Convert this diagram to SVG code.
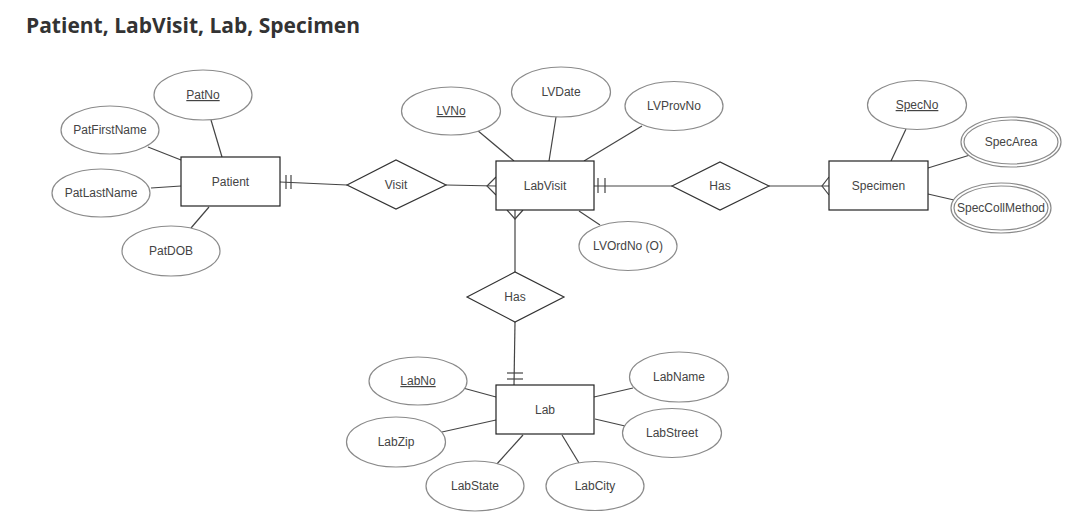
<svg xmlns="http://www.w3.org/2000/svg" width="1088" height="523" viewBox="0 0 1088 523">
<style>
.bg{fill:#ffffff}
.title{font-family:"Open Sans","Liberation Sans",sans-serif;font-weight:bold;font-size:21px;fill:#333333}
.ent rect{fill:#ffffff;stroke:#222222;stroke-width:1.2}
.rel polygon{fill:#ffffff;stroke:#333333;stroke-width:1.2}
.att ellipse{fill:#ffffff;stroke:#8a8a8a;stroke-width:1.2}
text.l{font-family:"Liberation Sans",Arial,sans-serif;font-size:12px;fill:#444444;text-anchor:middle}
.key{text-decoration:underline}
.conn line,.conn polyline{stroke:#444444;stroke-width:1.2;fill:none}
</style>
<rect class="bg" x="0" y="0" width="1088" height="523"/>
<text class="title" x="26" y="33">Patient, LabVisit, Lab, Specimen</text>

<g id="connectors" class="conn">
  <line x1="211" y1="120" x2="222" y2="157"/>
  <line x1="148" y1="147" x2="181" y2="160"/>
  <line x1="151" y1="188" x2="181" y2="186"/>
  <line x1="191" y1="228" x2="209" y2="207"/>
  <line x1="280" y1="182" x2="347" y2="185"/>
  <line x1="286" y1="175" x2="286" y2="189"/>
  <line x1="291" y1="175" x2="291" y2="189"/>
  <line x1="446" y1="185" x2="496" y2="186"/>
  <polyline points="496,177 487,186 496,195"/>
  <line x1="477" y1="130" x2="514" y2="161"/>
  <line x1="556" y1="117" x2="549" y2="161"/>
  <line x1="642" y1="126" x2="584" y2="161"/>
  <line x1="579" y1="211" x2="600" y2="225"/>
  <line x1="594" y1="186" x2="672" y2="186"/>
  <line x1="598" y1="178" x2="598" y2="193"/>
  <line x1="605" y1="178" x2="605" y2="193"/>
  <line x1="769" y1="186" x2="829" y2="186"/>
  <polyline points="829,177 822,186 829,195"/>
  <line x1="906" y1="129" x2="891" y2="161"/>
  <line x1="928" y1="168" x2="970" y2="155"/>
  <line x1="928" y1="194" x2="954" y2="200"/>
  <line x1="515" y1="210" x2="515" y2="272"/>
  <polyline points="507,210 515,219 523,210"/>
  <line x1="515" y1="322" x2="514" y2="385"/>
  <line x1="507" y1="373" x2="523" y2="373"/>
  <line x1="507" y1="379" x2="523" y2="379"/>
  <line x1="463" y1="388" x2="496" y2="397"/>
  <line x1="633" y1="388" x2="594" y2="397"/>
  <line x1="442" y1="432" x2="496" y2="420"/>
  <line x1="595" y1="419" x2="625" y2="426"/>
  <line x1="496" y1="465" x2="523" y2="435"/>
  <line x1="562" y1="435" x2="579" y2="463"/>
</g>

<g id="patient" class="ent"><rect x="181" y="157" width="99" height="49"/><text class="l" x="230.5" y="186">Patient</text></g>
<g id="labvisit" class="ent"><rect x="496" y="161" width="98" height="49"/><text class="l" x="545" y="190">LabVisit</text></g>
<g id="specimen" class="ent"><rect x="829" y="161" width="99" height="49"/><text class="l" x="878.5" y="190">Specimen</text></g>
<g id="lab" class="ent"><rect x="496" y="385" width="98" height="49"/><text class="l" x="545" y="414">Lab</text></g>

<g id="visit" class="rel"><polygon points="347,185 396,160 446,185 396,209"/><text class="l" x="396" y="189">Visit</text></g>
<g id="has-specimen" class="rel"><polygon points="672,186 720,162 769,186 720,210"/><text class="l" x="720" y="190">Has</text></g>
<g id="has-lab" class="rel"><polygon points="467,297 515,272 564,297 515,322"/><text class="l" x="515" y="301">Has</text></g>

<g id="patno" class="att"><ellipse cx="203" cy="95" rx="49" ry="25"/><text class="l key" x="203" y="99">PatNo</text></g>
<g id="patfirstname" class="att"><ellipse cx="110" cy="130" rx="49" ry="24"/><text class="l" x="110" y="134">PatFirstName</text></g>
<g id="patlastname" class="att"><ellipse cx="101" cy="193" rx="49" ry="24"/><text class="l" x="101" y="197">PatLastName</text></g>
<g id="patdob" class="att"><ellipse cx="171" cy="251" rx="49" ry="25"/><text class="l" x="171" y="255">PatDOB</text></g>

<g id="lvno" class="att"><ellipse cx="451" cy="111" rx="49.5" ry="24"/><text class="l key" x="451" y="115">LVNo</text></g>
<g id="lvdate" class="att"><ellipse cx="561" cy="92" rx="49.5" ry="25"/><text class="l" x="561" y="96">LVDate</text></g>
<g id="lvprovno" class="att"><ellipse cx="674" cy="106" rx="49" ry="24.5"/><text class="l" x="674" y="110">LVProvNo</text></g>
<g id="lvordno" class="att"><ellipse cx="628" cy="246" rx="49" ry="24.5"/><text class="l" x="628" y="250">LVOrdNo (O)</text></g>

<g id="specno" class="att"><ellipse cx="917" cy="105" rx="49.5" ry="24.5"/><text class="l key" x="917" y="109">SpecNo</text></g>
<g id="specarea" class="att"><ellipse cx="1011" cy="142" rx="50" ry="25"/><ellipse cx="1011" cy="142" rx="47" ry="22"/><text class="l" x="1011" y="146">SpecArea</text></g>
<g id="speccollmethod" class="att"><ellipse cx="1001" cy="208" rx="50" ry="25"/><ellipse cx="1001" cy="208" rx="47" ry="22"/><text class="l" x="1001" y="212">SpecCollMethod</text></g>

<g id="labno" class="att"><ellipse cx="418" cy="381" rx="49" ry="24"/><text class="l key" x="418" y="385">LabNo</text></g>
<g id="labname" class="att"><ellipse cx="679" cy="377" rx="49.5" ry="25"/><text class="l" x="679" y="381">LabName</text></g>
<g id="labzip" class="att"><ellipse cx="396" cy="442" rx="49.5" ry="25"/><text class="l" x="396" y="446">LabZip</text></g>
<g id="labstreet" class="att"><ellipse cx="672" cy="433" rx="49.5" ry="24.5"/><text class="l" x="672" y="437">LabStreet</text></g>
<g id="labstate" class="att"><ellipse cx="475" cy="486" rx="49" ry="25"/><text class="l" x="475" y="490">LabState</text></g>
<g id="labcity" class="att"><ellipse cx="595" cy="486" rx="49" ry="24.5"/><text class="l" x="595" y="490">LabCity</text></g>
</svg>
